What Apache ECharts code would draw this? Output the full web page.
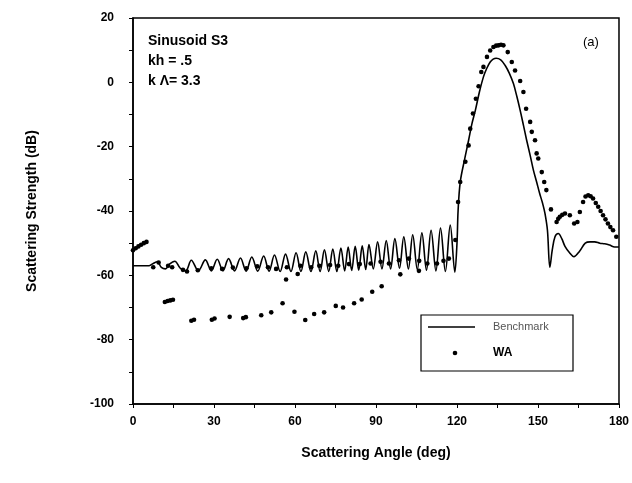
<!DOCTYPE html>
<html>
<head>
<meta charset="utf-8">
<script src="https://cdn.jsdelivr.net/npm/echarts@6/dist/echarts.min.js"></script>
<style>
  html, body { margin: 0; padding: 0; background: #fff; }
  #chart { width: 632px; height: 483px; }
</style>
</head>
<body>
<div id="chart"></div>
<script>
// x tick values (deg) and y tick values (dB)
var xTicks = [0, 30, 60, 90, 120, 150, 180];
var yTicks = [20, 0, -20, -40, -60, -80, -100];

// Benchmark curve, [angle, dB]
var benchStart = [[0, -57], [3, -57], [6, -57], [7.5, -56.3], [9, -55.8], [10.5, -57.5], [12, -58],
  [13.5, -56.5], [15.5, -55.6], [17.5, -57.8], [19.5, -58.6]];
var benchRipple = [[21.6, -55.3], [24.2, -58.6], [26.8, -55.2], [29, -58.6], [31.2, -55.0], [33.3, -58.6],
  [35.4, -54.8], [37.6, -58.6], [39.8, -54.6], [41.9, -58.7], [44.0, -54.3], [46.2, -58.7],
  [48.4, -54.0], [50.4, -58.7], [52.4, -53.7], [54.5, -58.8], [56.5, -53.4], [58.5, -58.8],
  [60.4, -53.0], [62.2, -58.8], [64.0, -52.7], [65.9, -58.8], [67.7, -52.4], [69.3, -58.8],
  [70.9, -52.1], [72.5, -58.8], [74.0, -51.8], [75.5, -58.8], [77.0, -51.5], [78.4, -58.6],
  [79.7, -51.2], [81.0, -58.5], [82.3, -51.0], [83.6, -58.4], [84.9, -50.8], [86.2, -58.2],
  [87.4, -50.4], [89.0, -58.0], [90.6, -49.6], [92.2, -58.0], [93.8, -49.2], [95.4, -58.0],
  [97.0, -48.6], [98.7, -57.8], [100.3, -48.0], [102.0, -58.0], [103.6, -47.4], [105.3, -58.2],
  [107.0, -46.8], [108.7, -58.4], [110.4, -46.0], [112.2, -58.6], [113.9, -45.3], [115.7, -58.8],
  [117.5, -44.4], [119.2, -59.0]];
var benchLobe = [[120.0, -50], [120.4, -40], [121.2, -31], [122.8, -24], [124.3, -18], [125.5, -13],
  [126.8, -8.7], [128.3, -3], [129.8, 1.7], [131.0, 4.3], [132.3, 6.3], [133.4, 7.2], [134.5, 7.5],
  [136.2, 7], [137.8, 5.3], [139.4, 2.8], [140.9, -0.4], [142.2, -4.5], [143.4, -8.7], [144.6, -13.3],
  [145.8, -18], [147.1, -22.7], [148.3, -27.3], [149.5, -31], [150.6, -34.5], [151.7, -37.6],
  [152.6, -40.8], [153.5, -46], [154.4, -57.5], [155.3, -52], [156.3, -48], [157.5, -47],
  [158.8, -48.6], [160.0, -51], [161.7, -53], [163.3, -54.2], [165.4, -52.5], [167.5, -50],
  [169.3, -49.6], [171.0, -49.6], [172.9, -50], [174.7, -50.2], [176.5, -50.6], [178.4, -51.2], [180, -51.2]];

// WA points, [angle, dB]
var waStart = [[0, -52.2], [1, -51.6], [2, -51], [3, -50.5], [4, -50], [5, -49.6],
  [11.8, -68.3], [12.8, -68], [13.8, -67.8], [14.8, -67.6]];
var waBand = [[7.5, -57.5], [9.5, -56], [13, -57], [14.5, -57.5], [18.5, -58.3], [20, -58.8], [24, -58.4],
  [29, -57.8], [33, -58], [37, -57.6], [42, -57.8], [46, -57.2], [50, -57.5], [53, -58], [57, -57.5],
  [62, -57], [66, -57.5], [69, -57], [73, -56.8], [76, -57], [80, -56.5], [84, -56.5], [88, -56.3],
  [91.7, -55.8], [94.8, -56.3], [98.5, -55.3], [102.2, -54.8], [106, -55.5], [109, -56.3],
  [112.6, -56.3], [115, -55.5], [117, -54.8], [119.4, -49], [120.4, -37.2]];
var waLow = [[21.6, -74.1], [22.6, -73.8], [29.2, -73.8], [30.2, -73.4], [35.8, -72.9], [40.8, -73.3],
  [41.8, -73], [47.5, -72.4], [51.2, -71.5], [55.4, -68.7], [56.7, -61.3], [59.8, -71.3], [61, -59.6],
  [63.8, -73.9], [67.1, -72], [70.8, -71.5], [75.1, -69.5], [77.8, -70], [81.9, -68.7], [84.7, -67.5],
  [88.6, -65.1], [92.1, -63.4], [99, -59.7], [105.9, -58.6]];
var waLobe = [[121.2, -31], [123.1, -24.7], [124.3, -19.6], [124.9, -14.4], [125.9, -9.7], [127, -5.1],
  [128, -1.2], [129, 3.2], [129.8, 4.8], [131.1, 7.9], [132.3, 9.9], [133.5, 11], [134.5, 11.4],
  [135.4, 11.5], [136.3, 11.7], [137.2, 11.5], [138.8, 9.4], [140.3, 6.3], [141.5, 3.7], [143.4, 0.4],
  [144.6, -3], [145.6, -8.2], [147.1, -12.3], [147.7, -15.4], [148.9, -18], [149.5, -22.1],
  [150.1, -23.7], [151.4, -27.9], [152.3, -31], [153.1, -33.5], [154.8, -39.5], [156.9, -43.4],
  [157.5, -42.4], [158.1, -41.8], [159, -41.2], [160, -40.8], [161.8, -41.3], [163.4, -43.9],
  [164.6, -43.4], [165.5, -40.3], [166.7, -37.2], [167.6, -35.5], [168.6, -35.1], [169.5, -35.4],
  [170.4, -36.1], [171.4, -37.5], [172.3, -38.7], [173.2, -40], [174.1, -41.3], [175, -42.6],
  [175.9, -43.9], [176.8, -45], [177.8, -46], [179, -48]];

var chart = echarts.init(document.getElementById("chart"));

var font = "'Liberation Sans', Arial, sans-serif";

var option = {
  backgroundColor: "#fff",
  animation: false,
  grid: {
    left: 133,
    right: 11,
    top: 18,
    bottom: 79,
    show: true,
    borderColor: "#000",
    borderWidth: 1.5
  },
  xAxis: {
    type: "value",
    min: 0,
    max: 180,
    interval: 15,
    name: "Scattering Angle (deg)",
    nameLocation: "middle",
    nameGap: 42,
    nameTextStyle: { color: "#000", fontFamily: font, fontWeight: "bold", fontSize: 14 },
    axisLine: { onZero: false, lineStyle: { color: "#000", width: 1.5 } },
    axisTick: { length: 4, lineStyle: { color: "#000" } },
    axisLabel: {
      margin: 12,
      color: "#000",
      fontFamily: font,
      fontWeight: "bold",
      fontSize: 12,
      formatter: function(v) { return xTicks.indexOf(v) >= 0 ? String(v) : ""; }
    },
    splitLine: { show: false }
  },
  yAxis: {
    type: "value",
    min: -100,
    max: 20,
    interval: 10,
    name: "Scattering Strength (dB)",
    nameLocation: "middle",
    nameGap: 94,
    nameTextStyle: { color: "#000", fontFamily: font, fontWeight: "bold", fontSize: 14 },
    axisLine: { onZero: false, lineStyle: { color: "#000", width: 1.5 } },
    axisTick: { length: 4, lineStyle: { color: "#000" } },
    axisLabel: {
      margin: 19,
      color: "#000",
      fontFamily: font,
      fontWeight: "bold",
      fontSize: 12,
      formatter: function(v) { return yTicks.indexOf(v) >= 0 ? String(v) : ""; }
    },
    splitLine: { show: false }
  },
  graphic: [
    { type: "text", left: 148, top: 34, style: { text: "Sinusoid S3", font: "bold 14px " + font, fill: "#000" } },
    { type: "text", left: 148, top: 54, style: { text: "kh = .5", font: "bold 14px " + font, fill: "#000" } },
    { type: "text", left: 148, top: 74, style: { text: "k Λ= 3.3", font: "bold 14px " + font, fill: "#000" } },
    { type: "text", left: 583, top: 36, style: { text: "(a)", font: "13px " + font, fill: "#000" } },
    // legend box
    { type: "rect", shape: { x: 421, y: 315, width: 152, height: 56 }, style: { fill: "#fff", stroke: "#000", lineWidth: 1.2 }, z: 10 },
    { type: "line", shape: { x1: 428, y1: 327, x2: 475, y2: 327 }, style: { stroke: "#000", lineWidth: 1.5 }, z: 11 },
    { type: "text", x: 493, y: 321, style: { text: "Benchmark", font: "11px " + font, fill: "#555" }, z: 11 },
    { type: "circle", shape: { cx: 455, cy: 353, r: 2.3 }, style: { fill: "#000" }, z: 11 },
    { type: "text", x: 493, y: 347, style: { text: "WA", font: "bold 12px " + font, fill: "#000" }, z: 11 }
  ],
  series: [
    {
      name: "Benchmark",
      type: "line",
      data: benchStart.concat(benchRipple, benchLobe),
      showSymbol: false,
      symbol: "none",
      smooth: 0.35,
      lineStyle: { color: "#000", width: 1.6 }
    },
    {
      name: "WA",
      type: "scatter",
      data: waStart.concat(waBand, waLow, waLobe),
      symbol: "circle",
      symbolSize: 4.6,
      itemStyle: { color: "#000", opacity: 1 }
    }
  ]
};

chart.setOption(option);
</script>
</body>
</html>
